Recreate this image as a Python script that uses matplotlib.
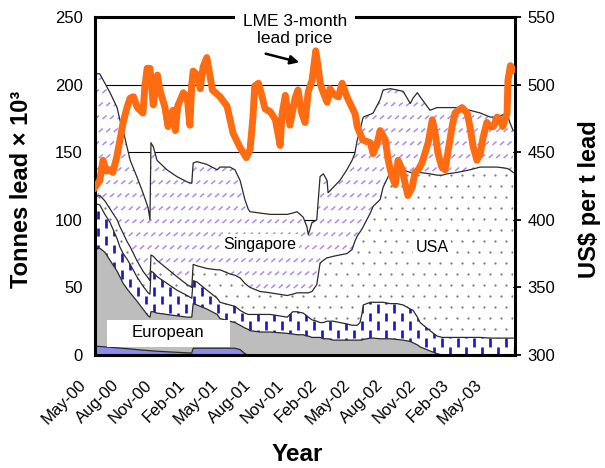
import numpy as np
import matplotlib
matplotlib.use('Agg')
import matplotlib.pyplot as plt
from matplotlib.collections import LineCollection
from matplotlib.transforms import ScaledTranslation
from matplotlib.patches import Rectangle

plt.rcParams['font.family'] = ['Liberation Sans', 'DejaVu Sans']

# ---------------- data (months since May-2000) ----------------
months = [0, 0.43, 0.9, 1.37, 2.01, 2.26, 2.56, 2.91, 3.2, 3.8,
          4.36, 4.83, 5.0, 5.09, 5.3, 5.64, 6.54, 7.44, 8.38, 8.8,
          8.93, 9.27, 10.17, 11.11, 11.37, 12.26, 12.73, 13.2, 13.63, 13.93,
          14.1, 15.0, 15.94, 17.48, 17.99, 18.38, 18.93, 19.27, 19.4, 19.74,
          20.17, 20.47, 20.77, 21.11, 21.2, 21.67, 22.26, 22.91, 23.38, 23.63,
          23.85, 24.1, 24.27, 24.4, 25.04, 25.3, 25.94, 26.2, 26.84, 27.48,
          28.03, 28.68, 28.93, 29.32, 29.57, 30.47, 31.11, 31.58, 32.01, 32.91,
          34.1, 35.04, 35.94, 36.58, 37.48, 37.73, 38.03]

# cumulative stock levels (tonnes x 1000), bottom to top
lvl_blue = [6.5, 6.3, 6.0, 5.7, 5.3, 5.1, 4.9, 4.7, 4.5, 4.0,
            3.6, 3.3, 3.2, 3.2, 3.0, 2.8, 2.4, 2.0, 1.6, 1.5,
            5.0, 5.0, 5.0, 5.0, 5.0, 5.0, 5.0, 4.0, 1.0, 0,
            0, 0, 0, 0, 0, 0, 0, 0, 0, 0,
            0, 0, 0, 0, 0, 0, 0, 0, 0, 0,
            0, 0, 0, 0, 0, 0, 0, 0, 0, 0,
            0, 0, 0, 0, 0, 0, 0, 0, 0, 0,
            0, 0, 0, 0, 0, 0, 0]

lvl_europe = [78, 79, 76, 70, 62, 58, 53, 49, 46, 40,
              34, 29, 28, 32, 32, 31, 30, 29, 28, 28,
              38, 37, 34, 30, 27, 25, 24, 22, 20, 19,
              18, 17, 17, 16, 15.5, 15, 15, 14, 14, 13,
              13, 13, 12, 12, 12, 11, 11, 11, 11, 11,
              11, 11, 11, 11.5, 12.5, 12.5, 12, 12, 12, 11.5,
              11, 10, 9, 7.5, 6, 3, 1, 0, 0, 0,
              0, 0, 0, 0, 0, 0, 0]

lvl_dash = [112, 111, 104, 98, 86, 80, 75, 71, 67, 58,
            51, 46, 45, 62, 61, 58, 53, 48, 44, 42,
            55, 54, 48, 42, 39, 37, 36, 33, 31, 30,
            30, 30, 30, 28, 32, 32, 31, 29, 28, 26,
            25, 24, 24, 25, 25, 25, 24, 23, 22, 22,
            22, 24, 30, 37, 39, 39, 39, 39, 38, 38,
            37, 34, 33, 28, 24, 18, 14, 13, 13, 13,
            13, 13, 12.5, 12.5, 12.5, 12.5, 12.5]

lvl_usa = [117, 118, 114, 108, 100, 95, 90, 84, 80, 70,
           62, 57, 55, 74, 73, 70, 64, 58, 52, 50,
           67, 66, 64, 63, 63, 60, 59, 57, 53, 51,
           50, 47, 46, 44, 45, 46, 46, 46, 46, 47,
           52, 68, 70, 72, 72, 73, 74, 75, 78, 84,
           88, 91, 93, 95, 105, 110, 115, 124, 135, 137,
           137, 135, 135, 135, 135, 134, 133, 133, 134, 135,
           137, 139, 139, 139, 138, 137, 135]

lvl_total = [208, 208, 201, 194, 183, 174, 166, 154, 144, 132,
             120, 109, 100, 157, 154, 144, 137, 132, 128, 127,
             142, 143, 141, 137, 139, 139, 137, 129, 115, 108,
             106, 105, 104, 104, 105, 106, 102, 95, 89, 98,
             100, 132, 134, 129, 120, 124, 129, 137, 144, 149,
             159, 166, 172, 176, 178, 179, 189, 196, 197, 196,
             195, 186, 190, 194, 191, 181, 183, 183, 183, 183,
             181, 179, 176, 176, 179, 172, 166]

price_month = [0, 0.43, 0.73, 1.03, 1.37, 1.62, 1.97, 2.27, 2.56, 2.91,
               3.19, 3.5, 3.85, 4.1, 4.36, 4.53, 4.74, 5.0, 5.19, 5.3,
               5.68, 5.9, 6.37, 6.64, 6.84, 7.09, 7.31, 7.52, 8.03, 8.38,
               8.63, 8.8, 8.93, 9.32, 9.57, 9.83, 10.17, 10.43, 10.68, 11.37,
               12.01, 12.56, 13.16, 13.76, 14.1, 14.36, 14.53, 14.87, 15.17, 15.47,
               15.94, 16.41, 16.84, 17.01, 17.31, 17.73, 18.2, 18.46, 18.8, 19.1,
               19.4, 19.74, 20.08, 20.34, 20.51, 20.77, 21.11, 21.37, 21.67, 22.14,
               22.48, 22.91, 23.38, 23.67, 23.85, 24.1, 24.36, 25.04, 25.3, 25.64,
               25.94, 26.41, 26.67, 27.01, 27.31, 27.56, 27.95, 28.2, 28.46, 28.85,
               29.1, 29.4, 29.74, 30.0, 30.3, 30.68, 30.94, 31.2, 31.54, 31.84,
               32.14, 32.48, 32.74, 33.03, 33.38, 33.85, 34.1, 34.4, 34.74, 35.04,
               35.3, 35.64, 35.9, 36.24, 36.58, 36.84, 37.09, 37.48, 37.56, 37.78,
               38.03]

price_usd = [424, 429, 444, 436, 437, 435, 446, 459, 472, 483,
             490, 491, 483, 481, 479, 498, 512, 512, 495, 485,
             507, 496, 483, 469, 475, 481, 466, 484, 494, 491,
             470, 500, 510, 507, 497, 513, 520, 508, 496, 491,
             484, 464, 454, 446, 452, 475, 499, 501, 492, 482,
             480, 474, 455, 478, 492, 470, 490, 496, 479, 472,
             495, 503, 525, 510, 500, 494, 487, 497, 493, 491,
             501, 491, 483, 478, 469, 464, 459, 457, 449, 456,
             466, 459, 444, 432, 426, 444, 437, 427, 418, 424,
             435, 437, 442, 449, 457, 474, 464, 449, 439, 437,
             452, 469, 479, 481, 483, 479, 469, 454, 444, 449,
             461, 472, 469, 469, 476, 474, 469, 479, 503, 514,
             511]

tick_months = [0, 3, 6, 9, 12, 15, 18, 21, 24, 27, 30, 33, 36]
tick_labels = ['May-00', 'Aug-00', 'Nov-00', 'Feb-01', 'May-01', 'Aug-01', 'Nov-01',
               'Feb-02', 'May-02', 'Aug-02', 'Nov-02', 'Feb-03', 'May-03']
left_ticks = [0, 50, 100, 150, 200, 250]
right_ticks = [300, 350, 400, 450, 500, 550]

# ---------------- figure ----------------
fig = plt.figure(figsize=(6.05, 4.68), dpi=100)
ax = fig.add_axes([95/605, 1-355/468, 420/605, 338/468])
ax.set_xlim(0, 38.2)
ax.set_ylim(0, 250)
ax.set_yticks(left_ticks)
ax.grid(axis='y', color='black', lw=0.8)
ax.set_axisbelow(True)

AW, AH = 420.0, 338.0


def clip_to(artist, coll):
    artist.set_clip_path(coll.get_paths()[0], ax.transData)


def dash_texture(coll):
    segs = []
    dx, period, L = 8.0, 17.0, 8.5
    for i in range(int(AW / dx) + 2):
        x = 3 + i * dx
        y = (period / 2) * (i % 2) - period
        while y < AH + period:
            segs.append([(x / AW, y / AH), (x / AW, (y + L) / AH)])
            y += period
    lc = LineCollection(segs, colors='#1414d2', linewidths=1.9,
                        transform=ax.transAxes, zorder=1.2)
    clip_to(lc, coll)
    ax.add_collection(lc, autolim=False)


def dot_texture(coll):
    xs, ys = [], []
    sp = 11.0
    j = 0
    y = 4.0
    while y < AH:
        x = 4.0 + (sp / 2) * (j % 2)
        while x < AW:
            xs.append(x / AW)
            ys.append(y / AH)
            x += sp
        y += sp
        j += 1
    sc = ax.scatter(xs, ys, s=2.6, color='#7a7a7a', linewidths=0,
                    transform=ax.transAxes, zorder=1.2)
    clip_to(sc, coll)


def hatch_texture(coll):
    segs = []
    rs, cs = 13.0, 7.5
    j = 0
    y = 2.0
    while y < AH:
        x = (cs / 2) * (j % 2)
        while x < AW:
            segs.append([(x / AW, y / AH), ((x + 4) / AW, (y + 3.5) / AH)])
            x += cs
        y += rs
        j += 1
    lc = LineCollection(segs, colors='#a88cf2', linewidths=1.1,
                        transform=ax.transAxes, zorder=1.2)
    clip_to(lc, coll)
    ax.add_collection(lc, autolim=False)


zero = np.zeros(len(months))
ax.fill_between(months, zero, lvl_blue, facecolor='#8c8cf0', edgecolor='none', zorder=1)
ax.fill_between(months, lvl_blue, lvl_europe, facecolor='#bdbdbd', edgecolor='none', zorder=1)
c_dash = ax.fill_between(months, lvl_europe, lvl_dash, facecolor='white', edgecolor='none', zorder=1)
dash_texture(c_dash)
c_usa = ax.fill_between(months, lvl_dash, lvl_usa, facecolor='white', edgecolor='none', zorder=1)
dot_texture(c_usa)
c_sing = ax.fill_between(months, lvl_usa, lvl_total, facecolor='white', edgecolor='none', zorder=1)
hatch_texture(c_sing)

for lvl in (lvl_blue, lvl_europe, lvl_dash, lvl_usa, lvl_total):
    ax.plot(months, lvl, color='#2a2a2a', lw=0.9, zorder=1.5)

# area labels
ax.text((260-95)/AW, (355-244)/AH, 'Singapore', transform=ax.transAxes, fontsize=11.5,
        ha='center', va='center', zorder=3,
        bbox=dict(facecolor='white', edgecolor='none', pad=1.5))
ax.text((432-95)/AW, (355-248)/AH, 'USA', transform=ax.transAxes, fontsize=11.5,
        ha='center', va='center', zorder=3,
        bbox=dict(facecolor='white', edgecolor='none', pad=1.5))
ax.add_patch(Rectangle((12/AW, 8/AH), 123/AW, 27/AH, transform=ax.transAxes,
                       facecolor='white', edgecolor='none', zorder=3))
ax.text((168-95)/AW, (355-333)/AH, 'European', transform=ax.transAxes, fontsize=12,
        ha='center', va='center', zorder=3.5)

# axes styling
for s in ax.spines.values():
    s.set_linewidth(2.2)
    s.set_color('black')
ax.tick_params(axis='y', length=0, pad=9, labelsize=12)
ax.tick_params(axis='x', length=0, pad=16, labelsize=12)
ax.set_xticks(tick_months)
ax.set_xticklabels(tick_labels, rotation=45, ha='right', va='top')
off = ScaledTranslation(-6/100, 0, fig.dpi_scale_trans)
for lab in ax.get_xticklabels():
    lab.set_transform(lab.get_transform() + off)

ax.set_ylabel('Tonnes lead × 10³', fontsize=17, fontweight='bold')
ax.yaxis.set_label_coords(-0.148, 0.49)
ax.set_xlabel('Year', fontsize=17.5, fontweight='bold')
ax.xaxis.set_label_coords(0.481, -0.26)

# right axis: price
ax2 = ax.twinx()
ax2.set_ylim(300, 550)
ax2.set_yticks(right_ticks)
for s in ax2.spines.values():
    s.set_visible(False)
ax2.tick_params(axis='y', direction='out', length=4, width=1.3, pad=5, labelsize=12)
ax2.plot(price_month, price_usd, color='#ff6b10', lw=5.0, zorder=5)
ax2.set_ylabel('US$ per t lead', fontsize=17, fontweight='bold')
ax2.yaxis.set_label_coords(1.15, 0.46)

ax2.text((295-95)/AW, (355-30)/AH, 'LME 3-month\nlead price', transform=ax2.transAxes,
         fontsize=12.5, ha='center', va='center', zorder=3, linespacing=1.1,
         bbox=dict(facecolor='white', edgecolor='none', pad=6))
ax2.annotate('', xy=((302-95)/AW, (355-63)/AH), xytext=((263-95)/AW, (355-53)/AH),
             xycoords='axes fraction', textcoords='axes fraction',
             arrowprops=dict(arrowstyle='-|>', color='black', lw=1.8, mutation_scale=13),
             zorder=4)

fig.savefig('out.png', dpi=100)
